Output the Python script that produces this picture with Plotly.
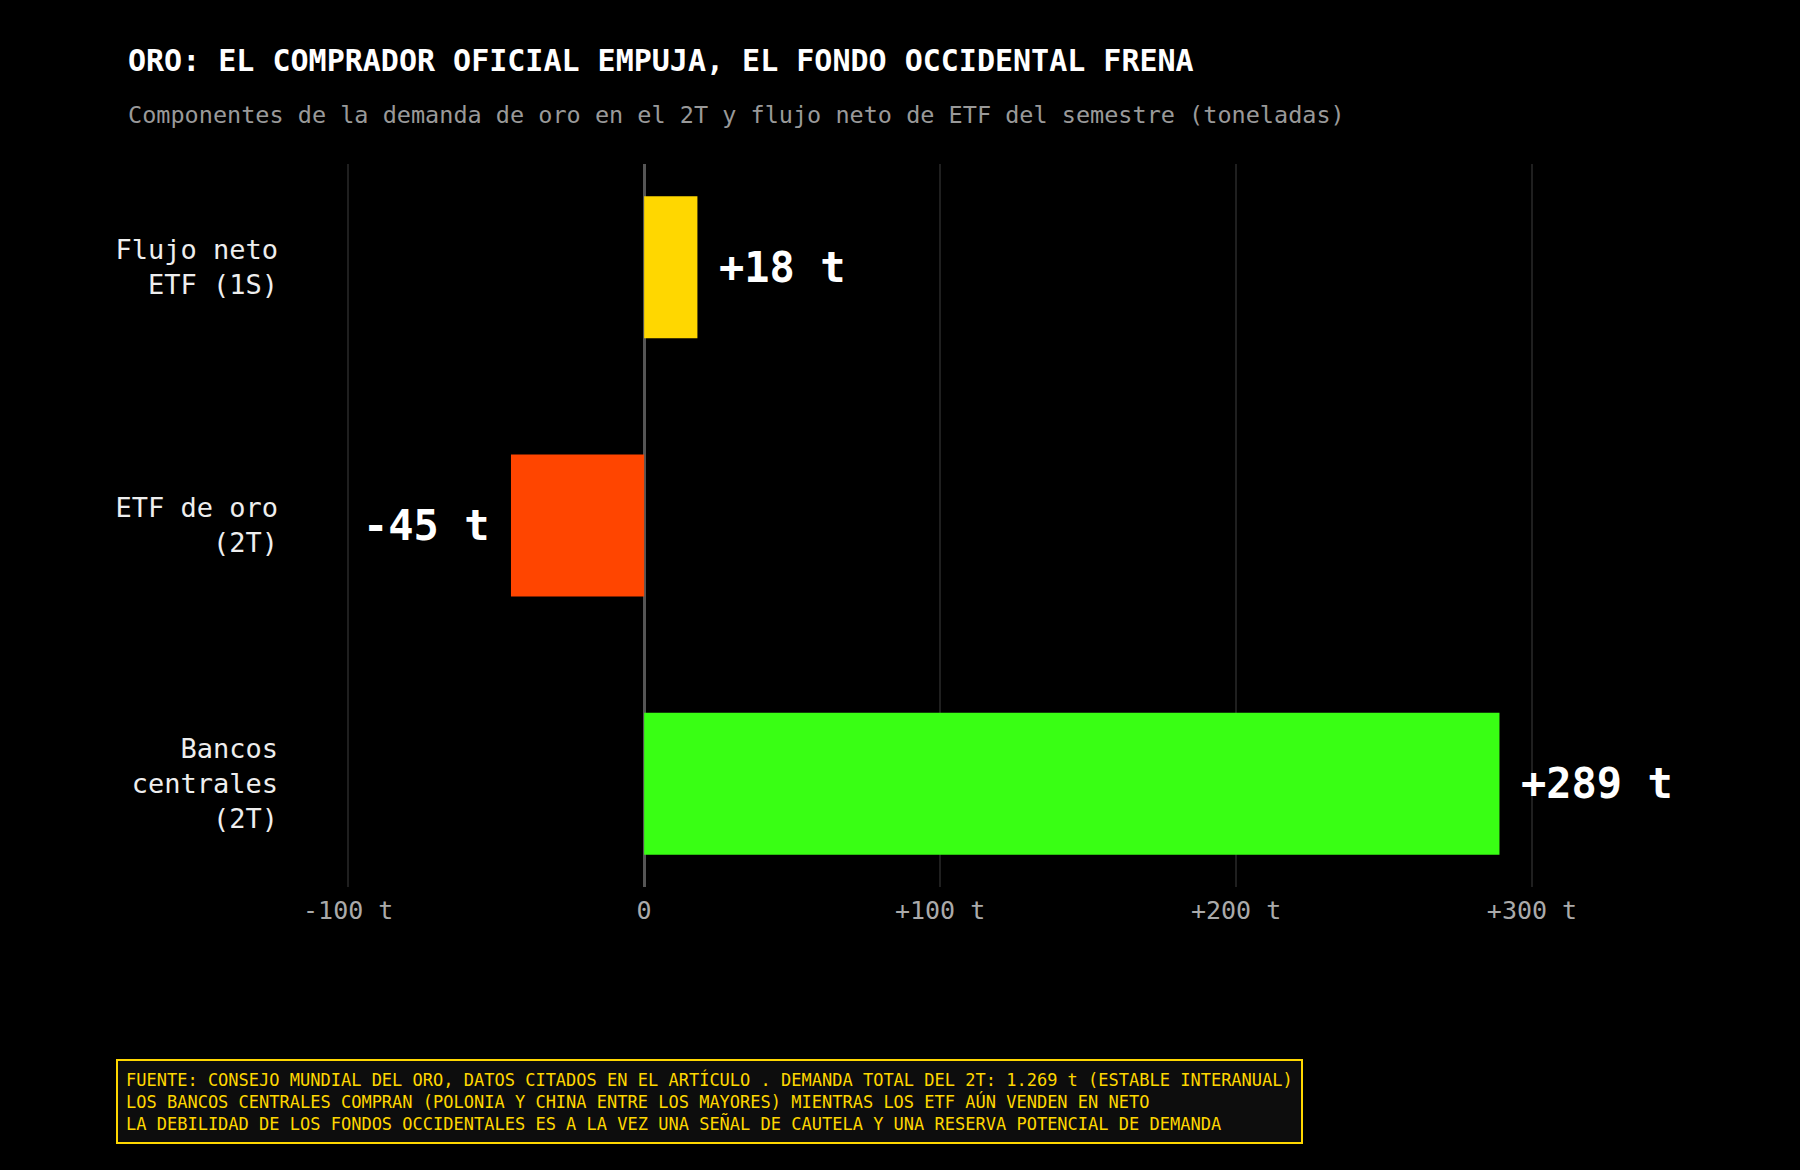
import plotly.graph_objects as go

# data, bottom to top as plotly draws categories
categories = ["Bancos<br>centrales<br>(2T)", "ETF de oro<br>(2T)", "Flujo neto<br>ETF (1S)"]
values = [289, -45, 18]
value_labels = ["+289 t", "-45 t", "+18 t"]
bar_colors = ["#39FF14", "#FF4500", "#FFD700"]

tick_vals = [-100, 0, 100, 200, 300]
tick_text = ["-100 t", "0", "+100 t", "+200 t", "+300 t"]

title_text = "ORO: EL COMPRADOR OFICIAL EMPUJA, EL FONDO OCCIDENTAL FRENA"
subtitle_text = "Componentes de la demanda de oro en el 2T y flujo neto de ETF del semestre (toneladas)"
footer_lines = [
    "FUENTE: CONSEJO MUNDIAL DEL ORO, DATOS CITADOS EN EL ARTÍCULO . DEMANDA TOTAL DEL 2T: 1.269 t (ESTABLE INTERANUAL)",
    "LOS BANCOS CENTRALES COMPRAN (POLONIA Y CHINA ENTRE LOS MAYORES) MIENTRAS LOS ETF AÚN VENDEN EN NETO",
    "LA DEBILIDAD DE LOS FONDOS OCCIDENTALES ES A LA VEZ UNA SEÑAL DE CAUTELA Y UNA RESERVA POTENCIAL DE DEMANDA",
]

FONT = "DejaVu Sans Mono"

fig = go.Figure()
fig.add_trace(go.Bar(
    x=values,
    y=categories,
    orientation="h",
    width=0.55,
    marker=dict(color=bar_colors, line=dict(width=0)),
    hoverinfo="skip",
))

annotations = []
# value labels next to bar ends
for cat, val, lab in zip(categories, values, value_labels):
    annotations.append(dict(
        x=val, y=cat, xref="x", yref="y",
        text="<b>%s</b>" % lab,
        showarrow=False,
        xanchor="left" if val >= 0 else "right",
        xshift=20 if val >= 0 else -20,
        font=dict(family=FONT, size=42, color="#ffffff"),
    ))

# title + subtitle
annotations.append(dict(
    x=-0.1172, y=1.1438, xref="paper", yref="paper",
    text="<b>%s</b>" % title_text, showarrow=False,
    xanchor="left", yanchor="middle",
    font=dict(family=FONT, size=30, color="#ffffff"),
))
annotations.append(dict(
    x=-0.1172, y=1.0678, xref="paper", yref="paper",
    text=subtitle_text, showarrow=False,
    xanchor="left", yanchor="middle",
    font=dict(family=FONT, size=23.5, color="#999999"),
))

# footer box
annotations.append(dict(
    x=-0.1244, y=-0.297, xref="paper", yref="paper",
    text="<br>".join(footer_lines), showarrow=False,
    xanchor="left", yanchor="middle", align="left",
    font=dict(family=FONT, size=17, color="#FFD700"),
    bgcolor="#0d0d0d", bordercolor="#FFD700", borderwidth=2, borderpad=8,
))

fig.update_layout(
    width=1800, height=1170,
    paper_bgcolor="#000000",
    plot_bgcolor="#000000",
    margin=dict(l=289, r=120, t=164, b=283),
    showlegend=False,
    font=dict(family=FONT, color="#ffffff"),
    annotations=annotations,
    xaxis=dict(
        range=[-120, 350],
        tickvals=tick_vals,
        ticktext=tick_text,
        showgrid=True, gridcolor="#1f1f1f", gridwidth=1.5,
        zeroline=True, zerolinecolor="#555555", zerolinewidth=3,
        showline=False,
        tickfont=dict(family=FONT, size=25, color="#aaaaaa"),
        ticklabelstandoff=6,
    ),
    yaxis=dict(
        range=[-0.4, 2.4],
        categoryorder="array", categoryarray=categories,
        showgrid=False, zeroline=False, showline=False,
        tickfont=dict(family=FONT, size=27, color="#eeeeee"),
        ticklabelstandoff=10,
    ),
)

fig.write_html(
    "out.html",
    config={"displayModeBar": False},
    post_script="document.body.style.margin='0';document.body.style.background='#000';",
)
